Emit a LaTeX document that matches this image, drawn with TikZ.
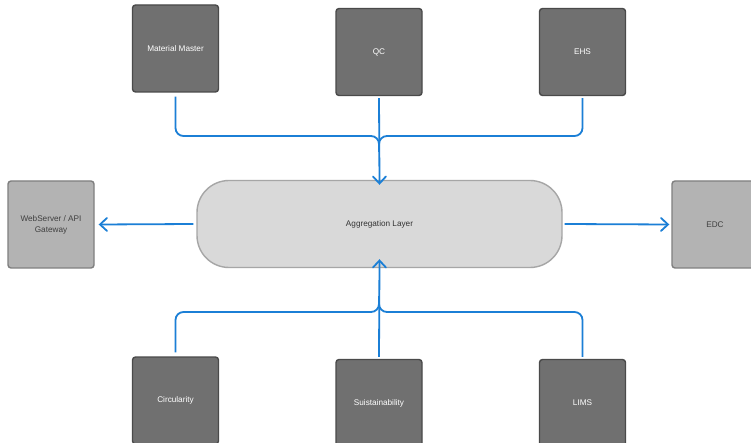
\documentclass[tikz,border=0pt]{standalone}
\usepackage{fontspec}
\setmainfont{Liberation Sans}
\usetikzlibrary{arrows.meta}
\definecolor{darkfill}{HTML}{707070}
\definecolor{darkedge}{HTML}{4A4A4A}
\definecolor{lightfill}{HTML}{B3B3B3}
\definecolor{lightedge}{HTML}{7F7F7F}
\definecolor{aggfill}{HTML}{D9D9D9}
\definecolor{aggedge}{HTML}{A6A6A6}
\definecolor{flow}{HTML}{1B7FD6}
\tikzset{
  darkbox/.style={draw=darkedge, fill=darkfill, line width=1.4pt, rounded corners=3pt,
    minimum width=86pt, minimum height=87pt, text=white, font=\fontsize{8.2}{9}\selectfont, align=center, inner sep=0pt},
  lightbox/.style={draw=lightedge, fill=lightfill, line width=1.4pt, rounded corners=3pt,
    minimum width=86pt, minimum height=87pt, text=black!75, font=\fontsize{8.2}{11}\selectfont, align=center, inner sep=0pt},
  aggbox/.style={draw=aggedge, fill=aggfill, line width=1.4pt, rounded corners=32pt,
    minimum width=365pt, minimum height=87pt, text=black!80, font=\fontsize{8.2}{9}\selectfont, inner sep=0pt},
  flowline/.style={draw=flow, line width=1.8pt, rounded corners=8pt},
  flowarrow/.style={draw=flow, line width=1.8pt, -{Straight Barb[length=7pt,width=13pt,line cap=round]}}
}
\begin{document}
\begin{tikzpicture}[x=1pt,y=-1pt]
\useasboundingbox (0,0) rectangle (751,443);
\fill[white] (0,0) rectangle (751,443);
% top sources
\node[darkbox] (mm) at (175.5,48.5) {Material Master};
\node[darkbox] (qc) at (379,52) {QC};
\node[darkbox] (ehs) at (582.5,52) {EHS};
% middle
\node[aggbox] (agg) at (379.5,224) {Aggregation Layer};
\node[lightbox] (web) at (51,224.5) {WebServer / API\\Gateway};
\node[lightbox] (edc) at (715,224.5) {EDC};
% bottom sources
\node[darkbox] (circ) at (175.5,400.5) {Circularity};
\node[darkbox] (sus) at (379,403) {Suistainability};
\node[darkbox] (lims) at (582.5,403) {LIMS};
% junction coordinates
\coordinate (tj) at (379,136);
\coordinate (tj2) at (379,152);
\coordinate (bj) at (379,312);
\coordinate (bj2) at (379,296);
% top connectors
\draw[flowline] ([yshift=-4pt]mm.south) |- (tj) -- (tj2);
\draw[flowline] ([yshift=-2pt]ehs.south) |- (tj) -- (tj2);
\draw[flowarrow] ([yshift=-2pt]qc.south) -- ([yshift=-5pt]agg.north);
% bottom connectors
\draw[flowline] ([yshift=4pt]circ.north) |- (bj) -- (bj2);
\draw[flowline] ([yshift=2pt]lims.north) |- (bj) -- (bj2);
\draw[flowarrow] ([yshift=2pt]sus.north) -- ([yshift=9pt]agg.south);
% side connectors
\draw[flowarrow] ([xshift=-3pt]agg.west) -- ([xshift=4pt]web.east);
\draw[flowarrow] ([xshift=2pt]agg.east) -- ([xshift=-2pt]edc.west);
\end{tikzpicture}
\end{document}
